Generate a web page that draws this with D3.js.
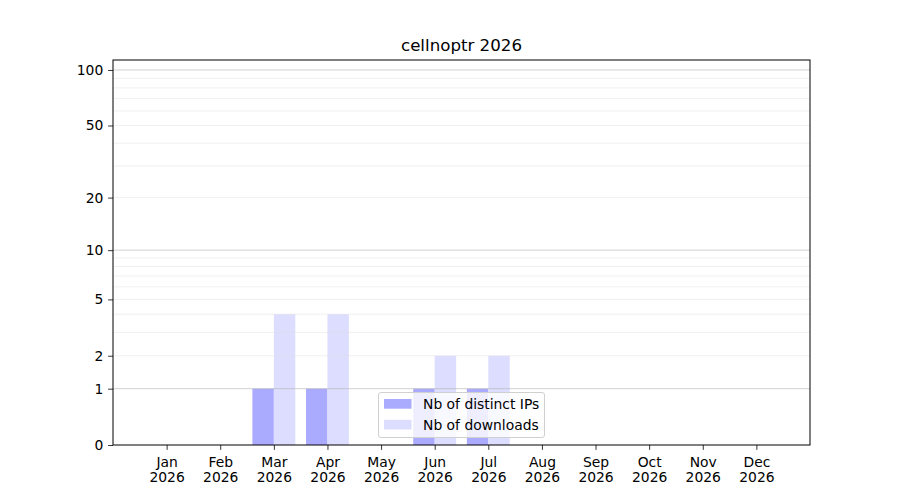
<!DOCTYPE html>
<html><head><meta charset="utf-8">
<script src="https://cdn.jsdelivr.net/npm/d3@7"></script>
<style>body{margin:0;background:#fff}svg{display:block}text{font-family:"DejaVu Sans",sans-serif}</style>
</head><body>
<svg id="c" width="900" height="500"></svg>
<script>
const title = "cellnoptr 2026";
const months = ["Jan","Feb","Mar","Apr","May","Jun","Jul","Aug","Sep","Oct","Nov","Dec"];
const yearLabel = "2026";
const distinctIPs = [0,0,1,1,0,1,1,0,0,0,0,0];
const downloads   = [0,0,4,4,0,2,2,0,0,0,0,0];
const yTicks = [0,1,2,5,10,20,50,100];
const majorGrid = [1,10,100];
const minorGrid = [2,3,4,5,6,7,8,9,20,30,40,50,60,70,80,90];
const seriesNames = ["Nb of distinct IPs","Nb of downloads"];
const colors = ["#aaaaff","#ddddff"];

const FS=13.89;
const L=113,R=810,T=60,B=445;
const svg=d3.select("#c");
const x=d3.scaleLinear().domain([0,13]).range([L,R]);
const y=d3.scaleSymlog().constant(1).domain([0,113.2]).range([B,T]);
const bw=0.4;

// bars
const g=svg.append("g");
g.selectAll(".ip").data(distinctIPs).join("rect")
  .attr("x",(d,i)=>x(i+1-bw)).attr("width",x(bw)-x(0))
  .attr("y",d=>y(d)).attr("height",d=>B-y(d)).attr("fill",colors[0]);
g.selectAll(".dl").data(downloads).join("rect")
  .attr("x",(d,i)=>x(i+1)).attr("width",x(bw)-x(0))
  .attr("y",d=>y(d)).attr("height",d=>B-y(d)).attr("fill",colors[1]);

// grid
svg.append("g").selectAll("line").data(minorGrid).join("line")
  .attr("x1",L).attr("x2",R).attr("y1",d=>y(d)).attr("y2",d=>y(d))
  .attr("stroke","#e0e0e0").attr("stroke-opacity",0.6).attr("stroke-width",0.8);
svg.append("g").selectAll("line").data(majorGrid).join("line")
  .attr("x1",L).attr("x2",R).attr("y1",d=>y(d)).attr("y2",d=>y(d))
  .attr("stroke","#b0b0b0").attr("stroke-opacity",0.6).attr("stroke-width",1);

// axes
const yAxis=svg.append("g").attr("transform",`translate(${L},0)`)
  .call(d3.axisLeft(y).tickValues(yTicks).tickFormat(d3.format("d")).tickSizeOuter(0).tickSize(4.86).tickPadding(4.86));
yAxis.select(".domain").remove();
yAxis.selectAll("text").attr("font-size",FS).attr("fill","#000").attr("font-family","DejaVu Sans");
yAxis.selectAll("line").attr("stroke","#000").attr("stroke-width",0.8);

const xAxis=svg.append("g").attr("transform",`translate(0,${B})`)
  .call(d3.axisBottom(x).tickValues(d3.range(1,13)).tickFormat(()=> "").tickSizeOuter(0).tickSize(4.86));
xAxis.select(".domain").remove();
xAxis.selectAll("line").attr("stroke","#000").attr("stroke-width",0.8);
xAxis.selectAll(".tick").each(function(d){
  const t=d3.select(this).append("text").attr("fill","#000").attr("font-size",FS)
    .attr("text-anchor","middle").attr("font-family","DejaVu Sans");
  t.append("tspan").attr("x",0).attr("y",22).text(months[d-1]);
  t.append("tspan").attr("x",0).attr("y",37).text(yearLabel);
});

svg.append("rect").attr("x",L).attr("y",T).attr("width",R-L).attr("height",B-T)
  .attr("fill","none").attr("stroke","#000").attr("stroke-width",1);

svg.append("text").attr("x",(L+R)/2).attr("y",51).attr("text-anchor","middle")
  .attr("font-size",16.67).text(title);

// legend
const lg=svg.append("g");
lg.append("rect").attr("x",378.5).attr("y",392.5).attr("width",166).attr("height",45).attr("rx",2.5)
  .attr("fill","#fff").attr("fill-opacity",0.8).attr("stroke","#d0d0d0");
seriesNames.forEach((n,i)=>{
  lg.append("rect").attr("x",384).attr("y",399+i*20.8).attr("width",27.5).attr("height",9.7).attr("fill",colors[i]);
  lg.append("text").attr("x",423).attr("y",408.7+i*20.8).attr("font-size",FS).text(n);
});
</script>
</body></html>
